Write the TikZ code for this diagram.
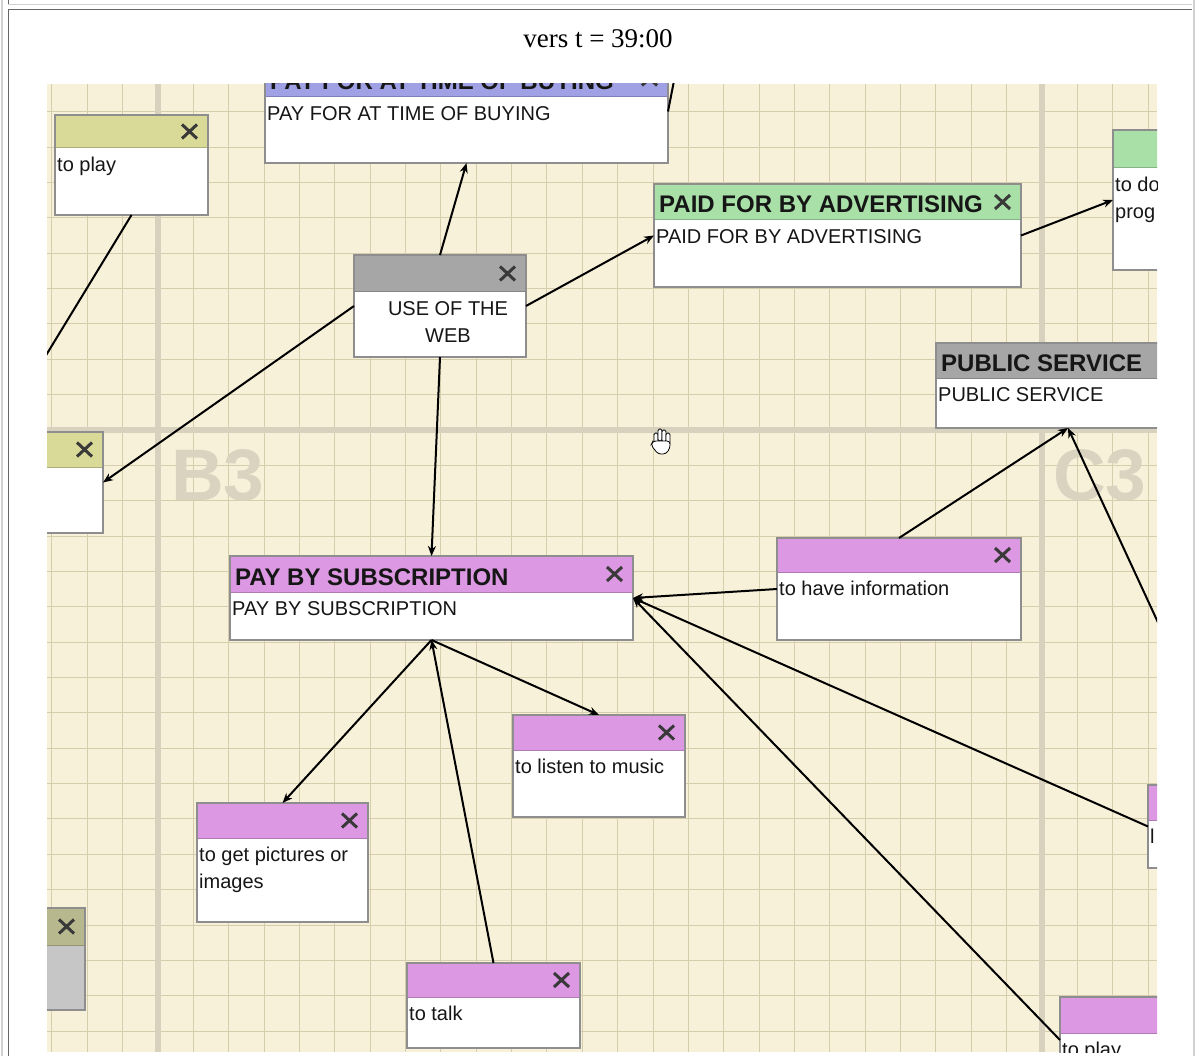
\documentclass[tikz,border=0pt]{standalone}
\usepackage{fontspec}
\setmainfont{Liberation Serif}
\newfontfamily\mapfont{Liberation Sans}
\usetikzlibrary{arrows.meta}
\definecolor{mapbg}{HTML}{F8F1D9}
\definecolor{gridc}{HTML}{D6CDAC}
\definecolor{majorc}{HTML}{D8D1BE}
\definecolor{cellc}{HTML}{D9D3C0}
\definecolor{hdblue}{HTML}{A0A0E4}
\definecolor{hdyellow}{HTML}{DADA98}
\definecolor{hdgray}{HTML}{A6A6A6}
\definecolor{hdgreen}{HTML}{A8E0A8}
\definecolor{hdpink}{HTML}{DC98E2}
\definecolor{hdolive}{HTML}{B8B88E}
\definecolor{bdgray}{HTML}{C6C6C6}
\definecolor{boxline}{HTML}{8E8E8E}
\definecolor{inkc}{HTML}{161616}
\tikzset{
    x=1pt, y=-1pt,
    box/.style={anchor=north west, inner sep=0pt, outer sep=0pt},
    boxedge/.style={draw=boxline, line width=1.8pt},
    xmark/.style={draw=inkc!85, line width=3pt},
    hdtext/.style={anchor=base west, inner sep=0pt, text=inkc, font=\mapfont\bfseries\fontsize{24}{28}\selectfont},
    bodytext/.style={anchor=north west, inner sep=0pt, text=inkc, align=left, font=\mapfont\fontsize{20}{27}\selectfont},
    link/.style={draw=black, line width=2pt, -{Stealth[length=10pt, width=8pt]}},
    plainlink/.style={draw=black, line width=2pt},
}
\begin{document}
\begin{tikzpicture}
    \useasboundingbox (0,0) rectangle (1196,1056);
    % page frame
    \draw[color=black!18, line width=2pt] (2,0) -- (2,1056);
    \draw[color=black!18, line width=2pt] (1194,0) -- (1194,1056);
    \draw[color=black!60, line width=1.5pt] (8.5,0) -- (8.5,4);
    \draw[color=black!18, line width=1.5pt] (8,4.5) -- (1192,4.5);
    \draw[color=black!60, line width=1.5pt] (8.5,1056) -- (8.5,9.5) -- (1192,9.5);
    \node[anchor=base, font=\fontsize{27}{30}\selectfont] (caption) at (598,48) {vers t = 39:00};
    \begin{scope}
        \clip (47,84) rectangle (1157,1052);
        \fill[mapbg] (47,84) rectangle (1157,1052);
        \foreach \i in {-4,...,29} {
            \draw[gridc, line width=1pt] ({158+\i*35.36},84) -- ({158+\i*35.36},1052);
        }
        \foreach \i in {-10,...,18} {
            \draw[gridc, line width=1pt] (47,{430+\i*35.36}) -- (1157,{430+\i*35.36});
        }
        \draw[majorc, line width=6pt] (158,84) -- (158,1052);
        \draw[majorc, line width=6pt] (1042,84) -- (1042,1052);
        \draw[majorc, line width=6pt] (47,430) -- (1157,430);
        \node[anchor=base west, inner sep=0pt, text=cellc, font=\mapfont\bfseries\fontsize{73}{73}\selectfont] (cellB) at (171,500) {B3};
        \node[anchor=base west, inner sep=0pt, text=cellc, font=\mapfont\bfseries\fontsize{73}{73}\selectfont] (cellC) at (1053,500) {C3};
        % hand cursor
        \begin{scope}[shift={(651,428)}]
            \foreach \fx/\fy in {3/5, 7/1, 11/2, 15/5} {
                \draw[fill=white, line width=0.8pt, rounded corners=1.5pt] (\fx,\fy) rectangle ++(4,12);
            }
            \draw[fill=white, line width=0.8pt, rounded corners=3pt] (2,13) -- (19,13) -- (19,20) -- (15,26) -- (7,26) -- (0,17) -- cycle;
        \end{scope}
        % concept boxes
        \foreach \nm/\xa/\ya/\xb/\yh/\yb/\hc/\bc/\hd/\tx in {
            buying/265/60/668/97/163/hdblue/white/{PAY FOR AT TIME OF BUYING}/{PAY FOR AT TIME OF BUYING},
            play/55/115/208/148/215/hdyellow/white/{}/{to play},
            web/354/255/526/292/357/hdgray/white/{}/{},
            paid/654/184/1021/220/287/hdgreen/white/{PAID FOR BY ADVERTISING}/{PAID FOR BY ADVERTISING},
            todo/1113/130/1300/168/270/hdgreen/white/{}/{to do\\prog},
            public/936/343/1200/378/428/hdgray/white/{PUBLIC SERVICE}/{PUBLIC SERVICE},
            lbox/-20/432/103/467/533/hdyellow/white/{}/{},
            sub/230/556/633/592/640/hdpink/white/{PAY BY SUBSCRIPTION}/{PAY BY SUBSCRIPTION},
            info/777/538/1021/572/640/hdpink/white/{}/{to have information},
            music/513/715/685/750/817/hdpink/white/{}/{to listen to music},
            pics/197/803/368/838/922/hdpink/white/{}/{to get pictures or\\images},
            talk/407/963/580/997/1048/hdpink/white/{}/{to talk},
            blbox/-60/908/85/945/1010/hdolive/bdgray/{}/{},
            rbox/1148/785/1320/820/868/hdpink/white/{}/{l},
            bplay/1060/997/1240/1033/1083/hdpink/white/{}/{to play}
        } {
            \node[box, fill=\bc, minimum width={(\xb-\xa)*1pt}, minimum height={(\yb-\ya)*1pt}] (\nm) at (\xa,\ya) {};
            \fill[\hc] (\xa,\ya) rectangle (\xb,\yh);
            \draw[\hc!80!black, line width=1pt] (\xa,\yh) -- (\xb,\yh);
            \draw[boxedge] (\nm.north west) rectangle (\nm.south east);
            \draw[xmark] ({\xb-26},{(\ya+\yh)/2-7}) -- ++(15,14) ({\xb-26},{(\ya+\yh)/2+7}) -- ++(15,-14);
            \node[hdtext] (\nm-t) at ({\xa+5},{\yh-7}) {\hd};
            \node[bodytext] (\nm-b) at ({\xa+2},{\yh+9}) {\tx};
        }
        \node[bodytext, anchor=north, align=center] (web-c) at (448,301) {USE OF THE\\WEB};
        \coordinate (playout) at (20,398);
        \coordinate (buyout) at (680,50);
        \coordinate (pubout) at (1180,670);
        % links
        \draw[plainlink] (play.south) -- (playout);
        \draw[plainlink] (buying.east) -- (buyout);
        \draw[link] (web.north) -- (buying.south);
        \draw[link] (web.east) -- (paid.west);
        \draw[link] (web.west) -- (lbox.east);
        \draw[link] (web.south) -- (sub.north);
        \draw[link] (paid.east) -- (todo.west);
        \draw[link] (info.north) -- (public.south);
        \draw[link] (pubout) -- (public.south);
        \draw[link] (info.west) -- (sub.east);
        \draw[link] (rbox.west) -- (sub.east);
        \draw[link] (bplay.west) -- (sub.east);
        \draw[link] (sub.south) -- (pics.north);
        \draw[link] (sub.south) -- (music.north);
        \draw[link] (talk.north) -- (sub.south);
    \end{scope}
\end{tikzpicture}
\end{document}
